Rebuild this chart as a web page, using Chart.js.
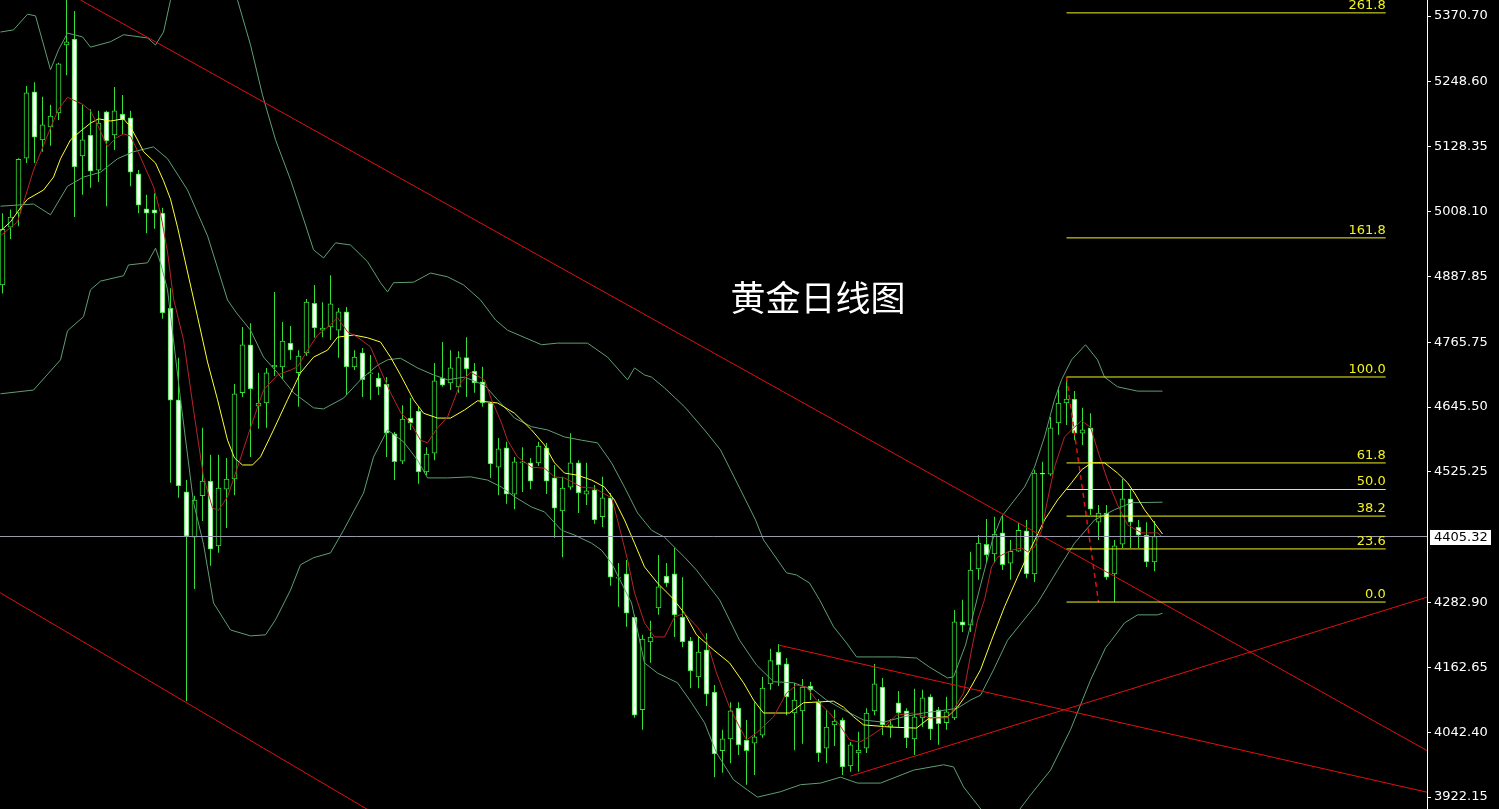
<!DOCTYPE html>
<html>
<head>
<meta charset="utf-8">
<script src="https://cdn.jsdelivr.net/npm/chart.js@4.4.1/dist/chart.umd.min.js"></script>
<style>
  html, body { margin: 0; padding: 0; background: #000; overflow: hidden; }
  #wrap { position: relative; width: 1499px; height: 809px; }
  #title {
    position: absolute; left: 818px; top: 277px; transform: translateX(-50%);
    color: #fff; font: 400 35px "Noto Sans CJK SC", sans-serif; line-height: 38px;
    white-space: nowrap; pointer-events: none;
  }
</style>
</head>
<body>
<div id="wrap">
  <canvas id="c" width="1499" height="809"></canvas>
  <div id="title">黄金日线图</div>
</div>
<script>
// 黄金日线图 — daily candles, MA, Bollinger, trend lines, fibo

// price axis
const tickValues = [5370.70, 5248.60, 5128.35, 5008.10, 4887.85, 4765.75, 4645.50,
  4525.25, 4282.90, 4162.65, 4042.40, 3922.15];
const lastPrice = 4405.32;

// candles (one per day, index = position)
const opens = [4872,4979,5005,5107,5230,5141,5165,5191,5317,5328,5111,5150,5085,5193,5150,5189,5182,5078,5013,5011,
  5005,4829,4659,4488,4404,4481,4508,4388,4493,4512,4672,4761,4647,4653,4720,4720,4764,4709,4746,4838,
  4788,4794,4788,4822,4720,4746,4707,4699,4688,4596,4545,4625,4638,4525,4560,4699,4690,4683,4737,4712,
  4692,4653,4534,4570,4484,4542,4542,4542,4570,4514,4453,4497,4542,4484,4492,4442,4477,4328,4336,4256,
  4084,4210,4273,4332,4336,4256,4212,4145,4195,4117,4008,4030,4087,4028,4022,4037,4132,4191,4169,4078,
  4082,4128,4098,4013,4056,4065,3980,4004,4013,4082,4126,4052,4097,4082,4030,4069,4108,4084,4060,4069,
  4247,4241,4345,4391,4373,4412,4356,4378,4416,4336,4523,4521,4616,4653,4660,4597,4607,4432,4449,4336,
  4391,4475,4423,4408,4358];
const highs = [5005,5012,5107,5241,5248,5221,5206,5284,5405,5380,5206,5198,5195,5195,5239,5224,5195,5085,5039,5042,
  5015,4866,4737,4510,4481,4607,4557,4557,4551,4688,4794,4801,4709,4718,4859,4803,4796,4751,4846,4872,
  4840,4890,4829,4831,4751,4755,4742,4709,4701,4599,4649,4662,4646,4571,4727,4766,4751,4749,4775,4727,
  4720,4655,4588,4581,4553,4571,4551,4581,4579,4538,4516,4597,4547,4542,4501,4516,4486,4356,4362,4260,
  4223,4249,4371,4356,4384,4330,4219,4219,4226,4130,4047,4098,4098,4065,4098,4145,4197,4206,4180,4134,
  4141,4136,4104,4084,4084,4069,4024,4043,4087,4169,4143,4067,4119,4087,4123,4121,4113,4089,4108,4269,
  4288,4377,4408,4438,4442,4445,4399,4430,4436,4529,4544,4627,4683,4701.2,4675,4644,4634,4464,4464,4399,
  4512,4492,4436,4432,4434];
const lows = [4856,4957,4981,5098,5098,5119,5130,5178,5261,4998,5039,5052,5063,5018,5122,5152,5055,5005,4968,4976,
  4809,4505,4477,4100,4308,4434,4351,4375,4421,4482,4664,4553,4605,4607,4703,4698,4733,4646,4740,4774,
  4775,4770,4737,4668,4714,4664,4659,4668,4553,4510,4540,4603,4503,4519,4547,4683,4677,4672,4664,4672,
  4646,4514,4482,4466,4456,4488,4493,4536,4484,4403,4367,4492,4449,4464,4429,4423,4314,4275,4238,4069,
  4047,4171,4260,4312,4219,4200,4124,4124,4091,3959,3967,3985,4000,3945,3963,4032,4121,4128,4074,4009,
  4021,4102,3987,3985,4017,3963,3969,3969,4004,4074,4037,4032,4052,4013,4000,4052,4028,4019,4047,4065,
  4228,4228,4325,4358,4356,4343,4325,4377,4328,4321,4421,4518,4594,4612,4584,4575,4445,4399,4325,4283.8,
  4384,4384,4384,4349,4341];
const closes = [4975,4998,5105,5228,5146,5169,5185,5282,5323,5091,5141,5083,5172,5139,5195,5178,5081,5020,5005,5005,
  4820,4658,4499,4406,4473,4508,4382,4495,4512,4670,4761,4679,4653,4709,4723,4768,4751,4740,4840,4792,
  4792,4837,4822,4720,4738,4696,4709,4683,4597,4544,4623,4616,4525,4558,4694,4686,4718,4737,4716,4690,
  4653,4540,4568,4484,4544,4544,4508,4573,4508,4458,4495,4542,4486,4490,4436,4477,4330,4330,4263,4074,
  4215,4219,4312,4319,4260,4210,4156,4191,4113,4002,4030,4082,4019,4008,4034,4124,4175,4167,4108,4102,
  4126,4121,4004,4052,4063,3978,4019,4009,4078,4132,4056,4056,4078,4032,4071,4106,4048,4058,4080,4247,
  4241,4343,4393,4371,4410,4353,4378,4417,4336,4523,4521,4607,4653,4660,4597,4603,4456,4449,4330,4388,
  4475,4432,4408,4358,4405.32];

// indicator lines: [day index, price]
const maFast = [[-0.25,4963],[1.88,4989],[3.88,5085],[5.13,5131],[6,5163],[7,5198],[8.13,5220],[10,5207],[11,5195],[12,5165],
  [13.13,5128],[14.13,5144],[15.13,5152],[16,5148],[17.25,5109],[18.88,5054],[19.75,5005],[20.63,4933],[21.38,4846],[22.63,4770],
  [23.88,4640],[25.13,4516],[26.25,4458],[27,4454],[28.13,4479],[29.38,4534],[31,4607],[32.63,4677],[34.38,4705],[36,4714],
  [36.88,4720],[38.13,4751],[39.38,4779],[41,4798],[41.88,4811],[43.13,4785],[44.38,4775],[46,4757],[47.25,4714],[48.5,4672],
  [49.75,4636],[51,4616],[52.25,4584],[53.13,4579],[54.38,4607],[55.63,4627],[57.25,4690],[58.5,4710],[60.25,4696],[61.13,4659],
  [62.38,4616],[63.13,4584],[64.38,4553],[66.13,4534],[67.75,4532],[69,4516],[70.25,4514],[72.38,4497],[74,4495],[76.13,4477],
  [76.88,4436],[78.13,4362],[79,4301],[80.25,4245],[81.5,4219],[82.75,4219],[84,4256],[85.25,4263],[86.88,4237],[88,4213],
  [89.25,4152],[90.88,4089],[92.13,4052],[93,4028],[94.25,4041],[96.38,4071],[98,4115],[99.25,4130],[100.5,4126],[101.75,4102],
  [103.38,4078],[104.63,4056],[105.88,4028],[107.13,4024],[108.38,4034],[110.13,4052],[111.75,4074],[113.88,4078],[115.88,4069],[118.13,4069],
  [118.88,4084],[120.13,4115],[121.13,4195],[121.88,4250],[122.75,4288],[123.63,4349],[124.38,4367],[126.13,4380],[127.38,4384],[128.13,4377],
  [129,4386],[129.88,4417],[130.63,4473],[131.5,4534],[132.75,4590],[133.63,4603],[134.88,4620],[136,4608],[137,4560],[138.13,4510],
  [139.38,4464],[140.63,4427],[142.38,4412],[144.38,4412],[145,4404]];
const maSlow = [[-0.25,4972],[1,4989],[2.25,5015],[3.13,5031],[5.13,5048],[6.38,5072],[7.25,5106],[8.5,5141],[9.75,5157],[11,5172],
  [12,5180],[13.5,5176],[15.13,5180],[16,5165],[16.88,5141],[17.63,5119],[19.13,5098],[20.13,5065],[21,5031],[21.88,4979],
  [23.13,4896],[24.38,4813],[25.63,4729],[26.88,4659],[28.13,4584],[29,4551],[30,4538],[31.25,4538],[32.25,4553],[33.88,4603],
  [35.63,4659],[37.25,4709],[38.88,4738],[40.63,4751],[41.88,4775],[43.88,4779],[45.63,4774],[47.25,4766],[48.5,4738],[49.75,4705],
  [51.38,4659],[52.63,4634],[54.38,4625],[56,4625],[57.75,4640],[59.38,4657],[61.88,4653],[64,4634],[66.13,4603],[67.75,4575],
  [69,4542],[70.25,4523],[71.88,4519],[73.63,4510],[75.25,4497],[76.5,4473],[77.75,4436],[79,4393],[80.25,4349],[81.88,4319],
  [83.63,4293],[85.25,4263],[86.75,4223],[88.88,4195],[90.88,4171],[92.63,4134],[93.88,4102],[95.13,4078],[98.38,4078],[100.13,4097],
  [103.88,4100],[105.13,4089],[106.38,4071],[107.63,4056],[110.88,4052],[114.25,4050],[115.88,4069],[118.13,4071],[119.38,4089],[120.63,4115],
  [122.25,4158],[123.63,4213],[125.25,4275],[126.88,4330],[128.63,4386],[130.25,4436],[131.88,4473],[133.63,4505],[134.88,4529],[136.13,4542],
  [137.75,4542],[139.38,4523],[140.63,4505],[141.5,4486],[142.75,4455],[144,4430],[145,4410]];
const bbUpper = [[-0.25,5341],[1.38,5345],[3.13,5374],[4.13,5371],[6,5271],[7,5308],[8.13,5339],[10,5332],[11,5313],[13.5,5323],
  [15.13,5336],[18.13,5330],[19.13,5317],[20.13,5341],[21,5400],[22.88,5456],[25.38,5493],[27.5,5465],[29.38,5400],[31,5317],
  [32.5,5224],[34.13,5141],[36,5067],[37.88,4983],[38.88,4937],[40.13,4922],[41.63,4950],[43.5,4946],[45.63,4915],[47.25,4876],
  [48.13,4859],[48.88,4876],[51.38,4877],[53.5,4894],[55.63,4887],[57.63,4872],[59.75,4844],[61.63,4807],[63.13,4788],[67.38,4761],
  [69.38,4764],[73.13,4764],[75.63,4738],[78.13,4696],[79,4718],[80.25,4705],[81.13,4701],[82.75,4681],[85.25,4646],[87.75,4603],
  [89.75,4566],[92.25,4492],[94.13,4436],[95.13,4399],[98,4338],[99.25,4334],[100.88,4319],[102.13,4288],[103.88,4238],[105.5,4208],
  [106.75,4182],[108.88,4182],[111.75,4182],[114.25,4180],[115.88,4163],[118.13,4143],[118.88,4145],[120.38,4204],[122.25,4315],[123.75,4399],
  [124.88,4442],[127.75,4497],[129,4534],[130.25,4590],[131.5,4659],[132.38,4696],[133.63,4733],[135.38,4761],[136.88,4733],[137.75,4701],
  [139.38,4683],[141.88,4675],[145,4675]];
const bbMiddle = [[-0.25,5018],[3.88,5022],[6,5002],[8.13,5055],[10.13,5072],[12.25,5081],[14.38,5106],[16.38,5119],[18.88,5128],[20.63,5106],
  [23.13,5048],[25.63,4963],[28.13,4844],[29.25,4820],[31,4788],[32.63,4738],[34.38,4709],[36.38,4672],[38.88,4644],[40.13,4642],
  [42.63,4662],[44.75,4696],[46.88,4723],[48.13,4733],[49.75,4736],[51.88,4718],[53.88,4705],[55.63,4696],[57.75,4701],[60.25,4686],
  [61.88,4659],[64,4625],[66.13,4609],[68.13,4603],[70.25,4590],[72.38,4584],[74.38,4579],[76.13,4542],[77.75,4497],[79.38,4449],
  [81.13,4417],[82.75,4404],[85.25,4367],[86.75,4343],[89.63,4288],[92.13,4213],[94.25,4167],[96.38,4136],[98.88,4134],[101.38,4121],
  [103,4102],[105.13,4084],[107.63,4065],[110.13,4061],[112.63,4071],[115.13,4078],[118.13,4084],[119.38,4087],[121,4102],[122.25,4111],
  [123.88,4158],[125.63,4213],[129.38,4282],[131.88,4343],[134,4393],[136.5,4436],[139,4455],[141.13,4468],[145,4469]];
const bbLower = [[-0.25,4670],[3.88,4677],[7.25,4733],[8.13,4787],[10.13,4813],[11,4863],[12.25,4879],[15.13,4889],[15.75,4909],[18.13,4913],
  [19.13,4940],[19.75,4913],[20.63,4863],[22.25,4660],[23.88,4468],[25.13,4391],[26.38,4282],[28.5,4232],[31,4221],[32.88,4223],
  [34.13,4251],[36,4306],[37.25,4353],[38.88,4366],[41,4375],[42.63,4417],[45.13,4486],[46.38,4553],[48.13,4603],[50.13,4581],
  [51.88,4547],[53.13,4514],[55.63,4514],[58.5,4516],[60.63,4510],[62.38,4497],[64,4479],[66.13,4460],[67.75,4451],[69.88,4417],
  [71.5,4408],[73.63,4393],[74.88,4380],[76.13,4356],[77.38,4319],[78.63,4282],[80.25,4171],[81.88,4152],[84.38,4134],[86.13,4097],
  [87.75,4060],[89.25,4004],[91.38,3954],[93.13,3935],[94.38,3922],[97.25,3932],[99.75,3945],[102.25,3948],[104.75,3959],[106.88,3948],
  [109.75,3948],[113.88,3972],[117.63,3982],[118.88,3978],[120.13,3941],[121.38,3917],[122.88,3889],[124.75,3876],[126.63,3889],[128.5,3926],
  [131,3972],[133.5,4047],[136,4139],[137.88,4199],[138.63,4213],[140.25,4245],[141.88,4260],[144.38,4260],[145,4263]];

// hand-drawn trend lines: [start, end] as [day index, price]
const trendLines = [
  [[9.75, 5400.4], [178.1, 4008]],
  [[-0.3, 4301], [49.75, 3863]],
  [[97, 4204], [178.1, 3931]],
  [[106, 3961], [178.1, 4293]]
];
const fibAnchor = [[133, 4701.2], [137, 4283.8]];

// fibonacci levels
const fibLabels = ['0.0', '23.6', '38.2', '50.0', '61.8', '100.0', '161.8', '261.8'];
const fibPrices = [4283.8, 4382.3, 4443.2, 4492.5, 4541.8, 4701.2, 4959.2, 5376.5];
const fibFrom = 133, fibTo = 172.9;

const GREEN = '#33e033', BB = '#5e9e74', RED_MA = '#b8242a', YELLOW = '#ffff33',
      RED = '#e01010', FIB = '#f2f21e', GREY = '#9a9cae';
const LABEL_FONT = '13px "DejaVu Sans"';

const pts = arr => arr.map(p => ({ x: p[0], y: p[1] }));
const lineDs = (data, color, extra = {}) => Object.assign({
  type: 'line', data: pts(data), borderColor: color, borderWidth: 1,
  pointRadius: 0, tension: 0, fill: false, order: 0
}, extra);

const datasets = [
  // price line
  lineDs([[-1, lastPrice], [179, lastPrice]], GREY),
  // fibo
  ...fibPrices.map(p => lineDs([[fibFrom, p], [fibTo, p]], FIB)),
  lineDs(fibAnchor, RED, { borderDash: [5, 4], borderWidth: 1.5 }),
  // trend lines
  ...trendLines.map(t => lineDs(t, RED)),
  // MAs and bands
  lineDs(maFast, RED_MA),
  lineDs(maSlow, YELLOW),
  lineDs(bbUpper, BB),
  lineDs(bbMiddle, BB),
  lineDs(bbLower, BB),
  // candle bodies
  {
    type: 'bar', order: 1, grouped: false,
    data: opens.map((o, i) => ({ x: i, y: [o, closes[i]] })),
    backgroundColor: opens.map((o, i) => closes[i] >= o ? '#000000' : '#ffffff'),
    borderColor: GREEN, borderWidth: 1, borderSkipped: false,
    barThickness: 5, maxBarThickness: 5
  },
  // wicks
  {
    type: 'bar', order: 2, grouped: false,
    data: lows.map((l, i) => ({ x: i, y: [l, highs[i]] })),
    backgroundColor: GREEN, borderWidth: 0, inflateAmount: 0,
    barThickness: 1, maxBarThickness: 1
  }
];

const overlay = {
  id: 'overlay',
  afterDatasetsDraw(chart) {
    const { ctx, scales: { x, y } } = chart;
    ctx.save();
    ctx.font = LABEL_FONT;
    ctx.fillStyle = FIB;
    ctx.textAlign = 'right';
    ctx.textBaseline = 'bottom';
    const xr = x.getPixelForValue(fibTo);
    fibLabels.forEach((t, i) => ctx.fillText(t, xr, y.getPixelForValue(fibPrices[i]) - 1));
    ctx.restore();
  },
  afterDraw(chart) {
    const { ctx, chartArea, scales: { y } } = chart;
    const py = Math.round(y.getPixelForValue(lastPrice));
    ctx.save();
    ctx.fillStyle = '#ffffff';
    ctx.fillRect(chartArea.right + 3, py - 7, 61, 15);
    ctx.fillStyle = '#000000';
    ctx.font = LABEL_FONT;
    ctx.textBaseline = 'middle';
    ctx.textAlign = 'left';
    ctx.fillText(lastPrice.toFixed(2), chartArea.right + 7, py + 1);
    ctx.restore();
  }
};

new Chart(document.getElementById('c'), {
  type: 'bar',
  data: { datasets },
  options: {
    responsive: false, animation: false, devicePixelRatio: 1,
    layout: { padding: 0 },
    plugins: { legend: { display: false }, tooltip: { enabled: false }, title: { display: false } },
    scales: {
      x: {
        type: 'linear', display: false, offset: false,
        min: -0.3125, max: 178.0625,
        grid: { display: false }
      },
      y: {
        type: 'linear', position: 'right', bounds: 'data',
        min: 3899.95, max: 5400.4,
        afterBuildTicks: s => { s.ticks = tickValues.map(v => ({ value: v })); },
        afterFit: s => { s.width = 72; s.paddingTop = 0; s.paddingBottom = 0; },
        border: { display: true, color: '#ffffff', width: 1 },
        grid: { drawOnChartArea: false, color: '#ffffff', tickLength: 4, tickWidth: 1 },
        ticks: {
          color: '#ffffff', padding: 3, autoSkip: false,
          font: { family: 'DejaVu Sans', size: 13 },
          callback: v => Number(v).toFixed(2)
        }
      }
    }
  },
  plugins: [overlay]
});
</script>
</body>
</html>
